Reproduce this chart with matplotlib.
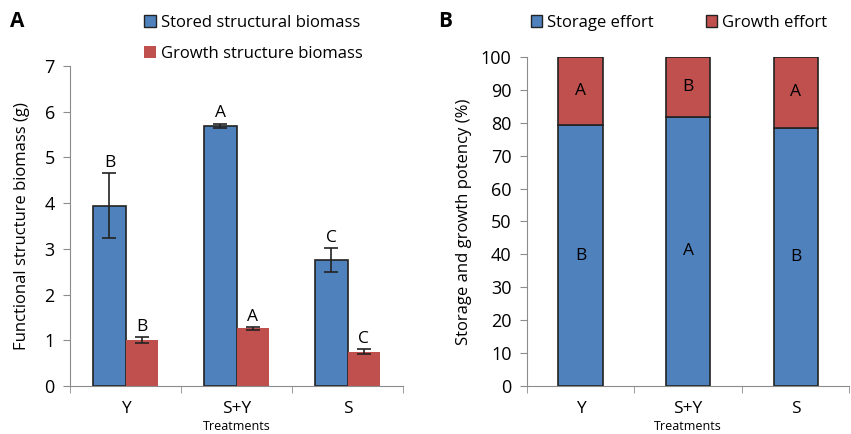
import matplotlib.pyplot as plt
import numpy as np
from matplotlib.patches import Patch

plt.rcParams["font.family"] = ["Open Sans", "DejaVu Sans"]

# Data
treatments = ["Y", "S+Y", "S"]
stored_biomass = [3.94, 5.69, 2.76]
stored_err = [0.71, 0.05, 0.26]
growth_biomass = [1.01, 1.26, 0.75]
growth_err = [0.06, 0.03, 0.05]
stored_letters = ["B", "A", "C"]
growth_letters = ["B", "A", "C"]

storage_effort = [79.2, 81.9, 78.5]
growth_effort = [20.8, 18.1, 21.5]
storage_letters = ["B", "A", "B"]
growth_eff_letters = ["A", "B", "A"]

blue = "#4F81BD"
red = "#C0504D"
gray = "#8c8c8c"

fig = plt.figure(figsize=(8.51, 4.34), dpi=100)
ax1 = fig.add_axes([0.0823, 0.1106, 0.3913, 0.7374])
ax2 = fig.add_axes([0.619, 0.1106, 0.379, 0.7581])

def style_axes(ax):
    for s in ["top", "right"]:
        ax.spines[s].set_visible(False)
    for s in ["left", "bottom"]:
        ax.spines[s].set_color(gray)
    ax.tick_params(axis="y", colors=gray, labelcolor="black", labelsize=13, length=5, pad=6)
    ax.tick_params(axis="x", which="minor", colors=gray, length=5)
    ax.tick_params(axis="x", which="major", length=0, labelsize=12.5, pad=11)
    ax.set_xlim(-0.5, 2.5)
    ax.set_xticks(np.arange(3))
    ax.set_xticklabels(treatments)
    ax.set_xticks([-0.5, 0.5, 1.5, 2.5], minor=True)

# Panel A
x = np.arange(len(treatments))
w = 0.29
ax1.bar(x - w / 2, stored_biomass, w, color=blue, edgecolor="#222222", linewidth=1.2,
        yerr=stored_err, capsize=5, error_kw=dict(elinewidth=1.2, capthick=1.2, ecolor="#222222"))
ax1.bar(x + w / 2, growth_biomass, w, color=red,
        yerr=growth_err, capsize=5, error_kw=dict(elinewidth=1.2, capthick=1.2, ecolor="#222222"))
for i in range(len(treatments)):
    ax1.annotate(stored_letters[i], (x[i] - w / 2, stored_biomass[i] + stored_err[i]),
                 xytext=(0, 1.5), textcoords="offset points", ha="center", va="bottom", fontsize=12.5)
    ax1.annotate(growth_letters[i], (x[i] + w / 2, growth_biomass[i] + growth_err[i]),
                 xytext=(0, 1.5), textcoords="offset points", ha="center", va="bottom", fontsize=12.5)
ax1.set_ylim(0, 7)
ax1.set_yticks(range(0, 8))
style_axes(ax1)
ax1.set_ylabel("Functional structure biomass (g)", fontsize=12, labelpad=10)
ax1.set_xlabel("Treatments", fontsize=9, labelpad=2)

# Panel B
wb = 0.41
ax2.bar(x, storage_effort, wb, color=blue, edgecolor="#222222", linewidth=1.2)
ax2.bar(x, growth_effort, wb, bottom=storage_effort, color=red, edgecolor="#222222", linewidth=1.2)
for i in range(len(treatments)):
    ax2.text(x[i], storage_effort[i] / 2, storage_letters[i], ha="center", va="center", fontsize=12.5)
    ax2.text(x[i], storage_effort[i] + growth_effort[i] / 2, growth_eff_letters[i],
             ha="center", va="center", fontsize=12.5)
ax2.set_ylim(0, 100)
ax2.set_yticks(range(0, 101, 10))
style_axes(ax2)
ax2.set_ylabel("Storage and growth potency (%)", fontsize=12, labelpad=6)
ax2.set_xlabel("Treatments", fontsize=9, labelpad=2)

# Legends
leg_a = [Patch(facecolor=blue, edgecolor="#222222", label="Stored structural biomass"),
         Patch(facecolor=red, label="Growth structure biomass")]
fig.legend(handles=leg_a, loc="upper left", bbox_to_anchor=(0.152, 1.0), ncol=1,
           frameon=False, fontsize=12, handlelength=0.7, handleheight=0.7,
           handletextpad=0.3, labelspacing=0.9)
leg_b = [Patch(facecolor=blue, edgecolor="#222222", label="Storage effort"),
         Patch(facecolor=red, edgecolor="#222222", label="Growth effort")]
fig.legend(handles=leg_b, loc="upper left", bbox_to_anchor=(0.606, 1.0), ncol=2,
           frameon=False, fontsize=12, handlelength=0.7, handleheight=0.7,
           handletextpad=0.3, columnspacing=3.1)

fig.text(0.012, 0.975, "A", fontsize=15, fontweight="bold", va="top")
fig.text(0.515, 0.975, "B", fontsize=15, fontweight="bold", va="top")

fig.savefig("out.png", dpi=100)
